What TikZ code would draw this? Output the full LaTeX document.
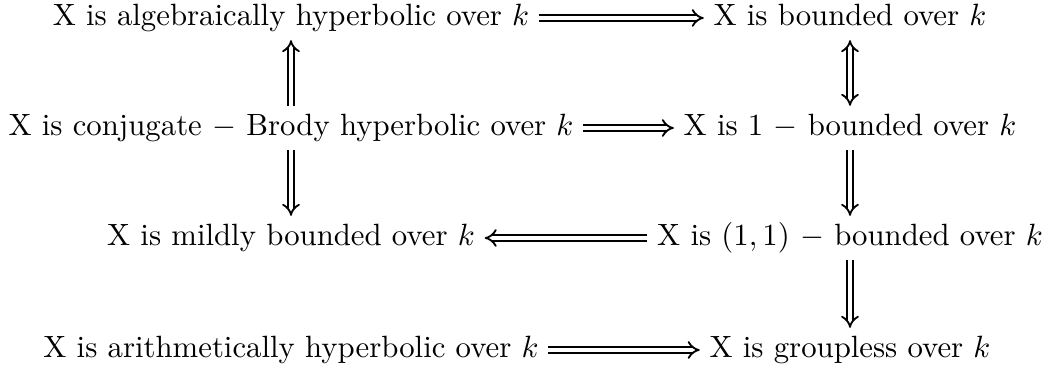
\documentclass[tikz,border=0pt]{standalone}
\usetikzlibrary{arrows.meta}

\tikzset{
  stmt/.style={text height=7.5pt,text depth=2.5pt,inner xsep=3pt,inner ysep=2pt},
  impl/.style={double,double equal sign distance,semithick,-{Implies}},
  iff/.style={double,double equal sign distance,semithick,{Implies}-{Implies}},
}

\begin{document}
\begin{tikzpicture}[x=0.325pt,y=-0.325pt]
  \useasboundingbox (0,0) rectangle (1050,374);

  % left column
  \node[stmt] (alg)  at (291,18)  {X is algebraically hyperbolic over $k$};
  \node[stmt] (conj) at (291,128) {X is conjugate $-$ Brody hyperbolic over $k$};
  \node[stmt] (mild) at (291,238) {X is mildly bounded over $k$};
  \node[stmt] (arit) at (291,350) {X is arithmetically hyperbolic over $k$};

  % right column
  \node[stmt] (bnd)  at (850,18)  {X is bounded over $k$};
  \node[stmt] (one)  at (850,128) {X is $1$ $-$ bounded over $k$};
  \node[stmt] (oo)   at (850,238) {X is $(1,1)$ $-$ bounded over $k$};
  \node[stmt] (grp)  at (850,350) {X is groupless over $k$};

  \draw[impl] (alg) -- (bnd);
  \draw[impl] (conj) -- (one);
  \draw[impl] (oo) -- (mild);
  \draw[impl] (arit) -- (grp);

  \draw[impl] (conj) -- (alg);
  \draw[impl] (conj) -- (mild);
  \draw[iff]  (bnd) -- (one);
  \draw[impl] (one) -- (oo);
  \draw[impl] (oo) -- (grp);
\end{tikzpicture}
\end{document}
